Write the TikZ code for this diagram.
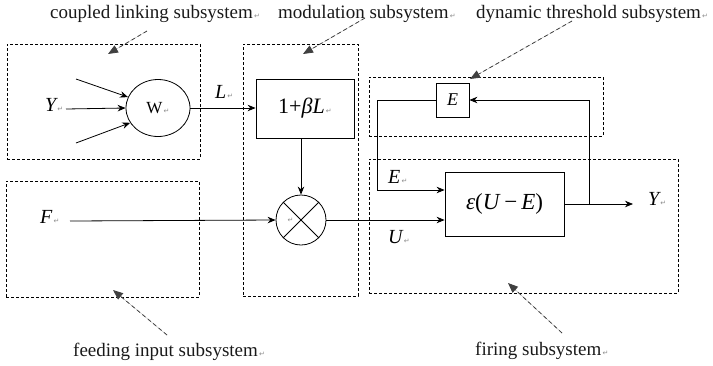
\documentclass[tikz,border=0pt]{standalone}
\usepackage{fontspec}
\setmainfont{Liberation Serif}
\newfontfamily\markfont{DejaVu Sans}
\usetikzlibrary{arrows.meta,positioning,shapes.geometric}
\newcommand{\pmark}{{\markfont\fontsize{7}{7}\selectfont\color{black!45}\,↵}}

\begin{document}
\begin{tikzpicture}[x=1pt, y=-1pt,
    block/.style={draw, line width=0.8pt, inner sep=0pt},
    group/.style={draw, line width=0.7pt, dash pattern=on 3pt off 2pt, inner sep=0pt},
    sig/.style={-{Stealth[length=8pt,width=6.5pt]}, line width=0.8pt},
    wire/.style={line width=0.8pt},
    note/.style={-{Triangle[length=10pt,width=8pt]}, line width=0.8pt,
                 dash pattern=on 4pt off 3pt, draw=black!75, fill=black!75},
    grouplabel/.style={inner sep=0pt, anchor=base west,
                       font=\fontsize{19}{19}\selectfont, text=black!90},
    sigvar/.style={inner sep=0pt, anchor=base west,
                   font=\fontsize{20}{20}\selectfont\itshape}
  ]
    \useasboundingbox (0,0) rectangle (713,365);

    % Subsystem frames
    \node[group, minimum width=193, minimum height=115] (coupled) at (103.5,101.5) {};
    \node[group, minimum width=115, minimum height=252] (modul) at (300.5,170) {};
    \node[group, minimum width=193, minimum height=116] (feeding) at (102.5,239) {};
    \node[group, minimum width=234, minimum height=59] (dynamic) at (486,106.5) {};
    \node[group, minimum width=309, minimum height=134] (firing) at (523.5,226) {};

    % Subsystem names
    \node[grouplabel] (coupledname) at (50,18) {coupled linking subsystem\pmark};
    \node[grouplabel] (modulname) at (278,18) {modulation subsystem\pmark};
    \node[grouplabel] (dynamicname) at (476,18) {dynamic threshold subsystem\pmark};
    \node[grouplabel] (feedingname) at (73,356) {feeding input subsystem\pmark};
    \node[grouplabel] (firingname) at (475,355) {firing subsystem\pmark};

    \coordinate (coupled from) at (147,31);   \coordinate (coupled to) at (108,54);
    \coordinate (modul from) at (365,18);     \coordinate (modul to) at (303,54);
    \coordinate (dynamic from) at (572,21);   \coordinate (dynamic to) at (470,79);
    \coordinate (feeding from) at (167,335);  \coordinate (feeding to) at (113,290);
    \coordinate (firing from) at (562,333);   \coordinate (firing to) at (508,283);
    \foreach \g in {coupled,modul,dynamic,feeding,firing}
      \draw[note] (\g\space from) -- (\g\space to);

    % Blocks
    \node[ellipse, block, minimum width=64, minimum height=57,
          font=\fontsize{17}{17}\selectfont] (w) at (158,108) {W\pmark};
    \node[block, minimum width=98, minimum height=59,
          font=\fontsize{22}{22}\selectfont] (gain) at (305,108.5) {1+\textit{βL}\pmark};
    \node[circle, block, minimum size=50] (mult) at (301,220) {};
    \draw[wire] (mult.45) -- (mult.225) (mult.135) -- (mult.315);
    \node[inner sep=0pt] (multmark) at ([xshift=-11pt]mult.center) {\pmark};
    \node[block, minimum width=33, minimum height=34,
          font=\fontsize{18}{18}\selectfont\itshape] (ebox) at (452.5,100) {E};
    \node[block, minimum width=119, minimum height=64,
          font=\fontsize{23}{23}\selectfont] (eps) at (504.5,204)
          {\textit{ε}(\textit{U}\,−\,\textit{E})};

    % Signal names
    \node[sigvar] (yin) at (45,111) {Y\pmark};
    \node[sigvar] (lname) at (215,98) {L\pmark};
    \node[sigvar] (fname) at (40,223) {F\pmark};
    \node[sigvar] (ename) at (388,183) {E\pmark};
    \node[sigvar] (uname) at (388,243) {U\pmark};
    \node[sigvar] (yout) at (648,205) {Y\pmark};

    % Connections
    \coordinate (in1) at (76,79);
    \coordinate (in2) at (66,109);
    \coordinate (in3) at (76,143);
    \draw[sig] (in1) -- (w.160);
    \draw[sig] (in2) -- (w.west);
    \draw[sig] (in3) -- (w.208);
    \draw[sig] (w.east) -- (w.east -| gain.west);
    \draw[sig] (gain.south -| mult.north) -- (mult.north);
    \coordinate (fstart) at (70,221);
    \draw[sig] (fstart) -- (mult.west);
    \draw[sig] (mult.east) -- (mult.east -| eps.west);
    \coordinate (eturn) at (377,190);
    \draw[sig] (ebox.west) -| (eturn) -- (eturn -| eps.west);
    \coordinate (yend) at (633,204);
    \draw[sig] (eps.east) -- (yend);
    \coordinate (fb) at (589,204);
    \draw[sig] (fb) |- (ebox.east);
  \end{tikzpicture}
\end{document}
